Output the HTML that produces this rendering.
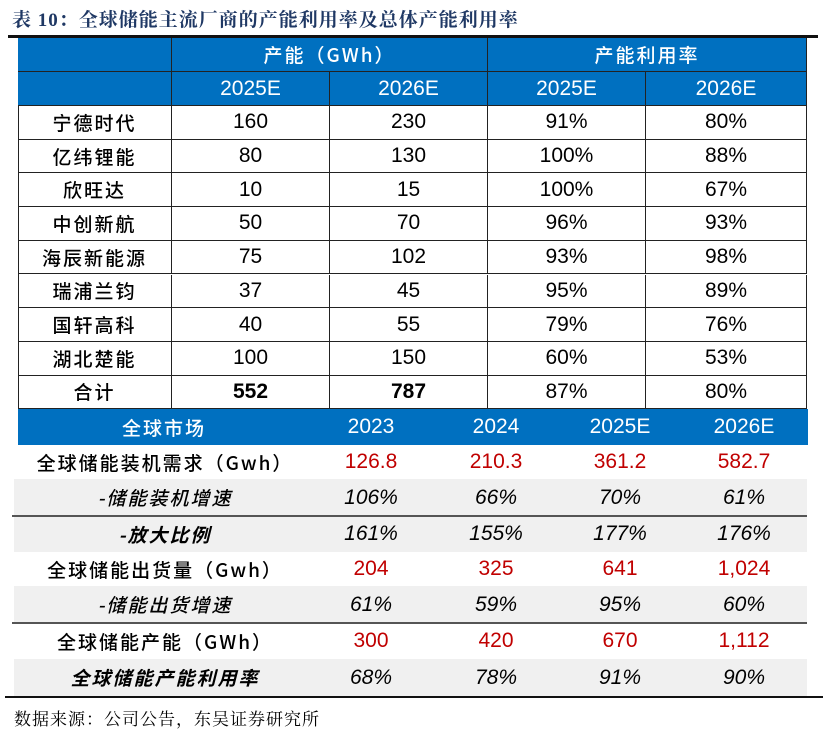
<!DOCTYPE html>
<html><head><meta charset="utf-8">
<style>
body{margin:0;width:832px;height:733px;background:#fff;position:relative;overflow:hidden;font-family:"Liberation Sans Narrow","Liberation Sans","Noto Sans CJK SC",sans-serif;}
.c{position:absolute;display:flex;align-items:center;justify-content:center;box-sizing:border-box;font-size:21px;color:#000;white-space:nowrap;}
.h{background:#0070C0;color:#fff;}
.b{border-right:1px solid #222;border-bottom:1px solid #222;}
.cj{font-family:"Liberation Sans Narrow","Noto Sans CJK SC",sans-serif;font-size:19px;font-weight:500;letter-spacing:2px;}
.r{color:#C00000;}
.i{font-style:italic;}
.g{position:absolute;background:#F0F0F0;}
.ln{position:absolute;background:#333;}
</style></head><body>
<div class="c" style="left:12px;top:3px;height:30px;font-size:19px;font-weight:bold;color:#1f3864;justify-content:flex-start;font-family:'Liberation Serif','Noto Serif CJK SC',serif;letter-spacing:1px">表 10：全球储能主流厂商的产能利用率及总体产能利用率</div>
<div class="ln" style="left:8px;top:35px;width:810px;height:3px;background:#111"></div>
<div id="t"></div>
<div class="ln" style="left:5px;top:696px;width:818px;height:2px;background:#111"></div>
<div class="c" style="left:14px;top:704px;height:26px;font-size:17px;justify-content:flex-start;font-family:'Noto Serif CJK SC',serif;letter-spacing:1px">数据来源：公司公告，东吴证券研究所</div>
<script>
const companies=["宁德时代","亿纬锂能","欣旺达","中创新航","海辰新能源","瑞浦兰钧","国轩高科","湖北楚能","合计"];
const cap25=["160","80","10","50","75","37","40","100","552"];
const cap26=["230","130","15","70","102","45","55","150","787"];
const util25=["91%","100%","100%","96%","93%","95%","79%","60%","87%"];
const util26=["80%","88%","67%","93%","98%","89%","76%","53%","80%"];
const years=["2023","2024","2025E","2026E"];
const mLabels=["全球储能装机需求（Gwh）","-储能装机增速","-放大比例","全球储能出货量（Gwh）","-储能出货增速","全球储能产能（GWh）","全球储能产能利用率"];
const mVals=[["126.8","210.3","361.2","582.7"],["106%","66%","70%","61%"],["161%","155%","177%","176%"],["204","325","641","1,024"],["61%","59%","95%","60%"],["300","420","670","1,112"],["68%","78%","91%","90%"]];
const T=document.getElementById('t');
function cell(x,y,w,h,txt,cls,name){const d=document.createElement('div');d.className='c '+cls;d.style.left=x+'px';d.style.top=y+'px';d.style.width=w+'px';d.style.height=h+'px';d.textContent=txt;


T.appendChild(d);return d;}
const cx=[18,172,330,488,646,807];
const lb=document.createElement('div');lb.className='ln';lb.style.cssText='left:18px;top:38px;width:1px;height:371px;background:#222';


T.appendChild(lb);
cell(18,38,154,34,"","h b","header-blank");
cell(172,38,316,34,"产能（GWh）","h b cj","header-capacity");
cell(488,38,319,34,"产能利用率","h b cj","header-utilization");
cell(18,72,154,34,"","h b","header-blank-2");
["2025E","2026E","2025E","2026E"].forEach((y,i)=>cell(cx[i+1],72,cx[i+2]-cx[i+1],34,y,"h b","header-year"));
const rh=33.7;
companies.forEach((c,i)=>{const y=106+i*rh;const last=i==companies.length-1;
 cell(18,y,154,rh,c,"b cj","company-name");
 const a=cell(172,y,158,rh,cap25[i],"b","capacity-2025");
 const b=cell(330,y,158,rh,cap26[i],"b","capacity-2026");
 cell(488,y,158,rh,util25[i],"b","utilization-2025");
 cell(646,y,161,rh,util26[i],"b","utilization-2026");
 if(last){a.style.fontWeight='bold';b.style.fontWeight='bold';}
});
cell(18,409,790,36,"","h","market-header-bg");
cell(18,409,292,36,"全球市场","h cj","market-header-label");
const yx=[371,496,620,744];
years.forEach((y,i)=>cell(yx[i]-60,409,120,36,y,"h","market-year"));
const rows=[[445,34,false],[479,37,true],[516,36,true],[552,34,false],[586,37,true],[623,36,false],[659,37,true]];
rows.forEach((r,i)=>{
 if(r[2]){const g=document.createElement('div');g.className='g';g.style.cssText=`left:14px;top:${r[0]}px;width:793px;height:${r[1]}px`;
 
 
 T.appendChild(g);}
 const it=(i==1||i==2||i==4||i==6);
 const lab=cell(20,r[0],290,r[1],mLabels[i],"cj"+(it?" i":""),"market-row-label");
 if(i==2||i==6)lab.style.fontWeight='bold';
 mVals[i].forEach((v,j)=>{cell(yx[j]-60,r[0],120,r[1],v,(it?"i":"r"),"market-value");});
});
[516,623].forEach(a=>{const l=document.createElement('div');l.className='ln';l.style.cssText=`left:12px;top:${a-1}px;width:795px;height:2px;background:#555`;


T.appendChild(l);});
</script>
</body></html>
